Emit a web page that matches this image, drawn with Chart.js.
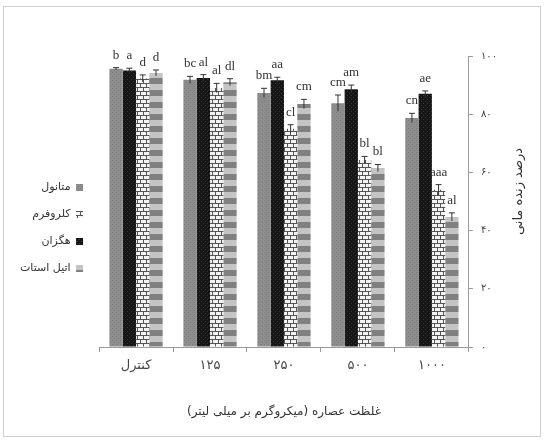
<!DOCTYPE html>
<html>
<head>
<meta charset="utf-8">
<script src="https://cdn.jsdelivr.net/npm/chart.js@4.4.1/dist/chart.umd.min.js"></script>
<style>
  html, body { margin: 0; padding: 0; background: #fff; }
</style>
</head>
<body>
<canvas id="myChart" width="545" height="441"></canvas>
<script>
const categories = ["کنترل", "۱۲۵", "۲۵۰", "۵۰۰", "۱۰۰۰"];
const seriesNames = ["متانول", "هگزان", "کلروفرم", "اتیل استات"];
const methanol = [95.6, 91.8, 87.3, 83.8, 78.7];
const hexane = [95.0, 92.4, 91.7, 88.6, 87.0];
const chloroform = [92.3, 89.0, 75.0, 64.3, 54.0];
const ethylAcetate = [94.2, 91.0, 83.5, 61.5, 44.7];
const methanolErr = [0.4, 1.2, 1.6, 2.8, 1.6];
const hexaneErr = [0.8, 1.2, 1.0, 1.4, 1.0];
const chloroformErr = [1.2, 1.6, 1.4, 1.2, 1.8];
const ethylAcetateErr = [1.0, 1.2, 1.6, 1.2, 1.4];
const methanolLetters = ["b", "bc", "bm", "cm", "cn"];
const hexaneLetters = ["a", "al", "aa", "am", "ae"];
const chloroformLetters = ["d", "al", "cl", "bl", "aaa"];
const ethylAcetateLetters = ["d", "dl", "cm", "bl", "al"];
const yTicks = [0, 20, 40, 60, 80, 100];
const yTickLabels = ["۰", "۲۰", "۴۰", "۶۰", "۸۰", "۱۰۰"];
const legendRank = [0, 2, 1, 3];
const xTitle = "غلظت عصاره (میکروگرم بر میلی لیتر)";
const yTitle = "درصد زنده مانی";

const ctx = document.getElementById("myChart").getContext("2d");

const makePattern = (w, h, draw) => {
  const c = document.createElement("canvas");
  c.width = w;
  c.height = h;
  draw(c.getContext("2d"));
  return ctx.createPattern(c, "repeat");
};

// fills for the four extracts
const greyFill = makePattern(4, 4, (g) => {
  g.fillStyle = "#8d8d8d";
  g.fillRect(0, 0, 4, 4);
  g.fillStyle = "#7c7c7c";
  g.fillRect(0, 0, 1, 1);
  g.fillRect(2, 2, 1, 1);
});
const blackFill = makePattern(4, 4, (g) => {
  g.fillStyle = "#151515";
  g.fillRect(0, 0, 4, 4);
  g.fillStyle = "#3c3c3c";
  g.fillRect(1, 1, 1, 1);
  g.fillRect(3, 3, 1, 1);
});
const brickFill = makePattern(12, 8, (g) => {
  g.fillStyle = "#555";
  g.fillRect(0, 0, 12, 8);
  g.fillStyle = "#f4f4f4";
  g.fillRect(0, 0, 5, 3);
  g.fillRect(6, 0, 5, 3);
  g.fillRect(0, 4, 2, 3);
  g.fillRect(3, 4, 5, 3);
  g.fillRect(9, 4, 3, 3);
});
const stripeFill = makePattern(4, 12, (g) => {
  g.fillStyle = "#c4c4c4";
  g.fillRect(0, 0, 4, 6);
  g.fillStyle = "#808080";
  g.fillRect(0, 6, 4, 6);
});

const makeSet = (label, data, err, letters, fill) => ({
  label: label,
  data: data,
  errors: err,
  letters: letters,
  backgroundColor: fill,
  borderWidth: 0,
  categoryPercentage: 0.72,
  barPercentage: 1.0,
});

const datasets = [
  makeSet(seriesNames[0], methanol, methanolErr, methanolLetters, greyFill),
  makeSet(seriesNames[1], hexane, hexaneErr, hexaneLetters, blackFill),
  makeSet(seriesNames[2], chloroform, chloroformErr, chloroformLetters, brickFill),
  makeSet(seriesNames[3], ethylAcetate, ethylAcetateErr, ethylAcetateLetters, stripeFill),
];

// error bars and letters, placed through the chart scales
const extras = {
  id: "extras",
  beforeDraw(chart) {
    const c = chart.ctx;
    c.save();
    c.strokeStyle = "#cfcfcf";
    c.lineWidth = 1;
    c.strokeRect(3.5, 6.5, 537, 430);
    c.restore();
  },
  afterDatasetsDraw(chart) {
    const c = chart.ctx;
    const y = chart.scales.y;
    c.save();
    chart.data.datasets.forEach((ds, i) => {
      chart.getDatasetMeta(i).data.forEach((bar, j) => {
        const top = y.getPixelForValue(ds.data[j] + ds.errors[j]);
        const bot = y.getPixelForValue(ds.data[j] - ds.errors[j]);
        c.strokeStyle = "#333";
        c.lineWidth = 1;
        c.beginPath();
        c.moveTo(bar.x, top);
        c.lineTo(bar.x, bot);
        c.moveTo(bar.x - 3, top);
        c.lineTo(bar.x + 3, top);
        c.stroke();
        c.fillStyle = "#333";
        c.font = "13px 'Liberation Serif'";
        c.textAlign = "center";
        c.textBaseline = "bottom";
        c.fillText(ds.letters[j], bar.x, top - 6);
      });
    });
    const a = chart.chartArea;
    c.translate(a.right + 50, (a.top + a.bottom) / 2 - 10);
    c.rotate(-Math.PI / 2);
    c.font = "13px 'DejaVu Sans'";
    c.fillStyle = "#333";
    c.textAlign = "center";
    c.textBaseline = "middle";
    c.fillText(yTitle, 0, 0);
    c.restore();
  },
};

new Chart(ctx, {
  type: "bar",
  data: { labels: categories, datasets: datasets },
  options: {
    responsive: false,
    animation: false,
    layout: { padding: { top: 56, right: 40, bottom: 18, left: 10 } },
    plugins: {
      tooltip: { enabled: false },
      legend: {
        position: "left",
        align: "start",
        rtl: true,
        title: { display: true, text: " ", padding: { top: 98, bottom: 0 }, font: { size: 10 } },
        labels: {
          boxWidth: 7,
          boxHeight: 7,
          padding: 16,
          color: "#333",
          font: { family: "DejaVu Sans", size: 11 },
          sort: (a, b) => legendRank[a.datasetIndex] - legendRank[b.datasetIndex],
        },
      },
    },
    scales: {
      x: {
        grid: { drawOnChartArea: false, drawTicks: true, tickLength: 5, color: "#999", offset: true },
        border: { color: "#999" },
        ticks: { color: "#444", padding: 6, font: { family: "DejaVu Sans", size: 13 } },
        title: {
          display: true,
          text: xTitle,
          color: "#333",
          padding: { top: 25 },
          font: { family: "DejaVu Sans", size: 12 },
        },
      },
      y: {
        position: "right",
        min: 0,
        max: 100,
        afterBuildTicks: (axis) => {
          axis.ticks = yTicks.map((v) => ({ value: v }));
        },
        grid: { drawOnChartArea: false, drawTicks: true, tickLength: 4, color: "#999" },
        border: { color: "#999" },
        ticks: {
          color: "#444",
          padding: 8,
          font: { family: "DejaVu Sans", size: 10 },
          callback: (v) => yTickLabels[yTicks.indexOf(v)],
        },
      },
    },
  },
  plugins: [extras],
});
</script>
</body>
</html>
